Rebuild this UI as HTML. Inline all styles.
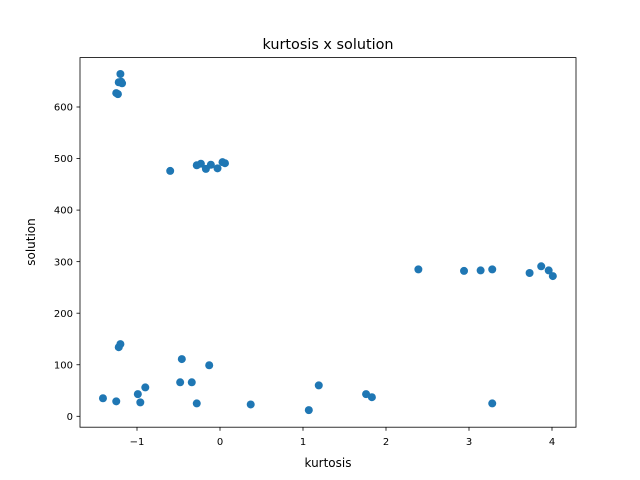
<!DOCTYPE html>
<html><head><meta charset="utf-8"><style>
body{margin:0;background:#fff;}
svg{display:block;font-family:"DejaVu Sans","Liberation Sans",sans-serif;}
</style></head><body>
<svg id="chart" width="640" height="480">
<rect x="0" y="0" width="640" height="480" fill="#fff"/>
<g id="points"></g>
<rect x="80" y="57.6" width="496" height="369.6" fill="none" stroke="#000" stroke-width="0.8"/>
<g id="xticks"></g>
<g id="yticks"></g>
<text x="328" y="49" text-anchor="middle" font-size="14.4">kurtosis x solution</text>
<text x="328" y="467" text-anchor="middle" font-size="12">kurtosis</text>
<text x="35" y="242" text-anchor="middle" font-size="12" transform="rotate(-90 35 242)">solution</text>
</svg>
<script>
const xVals=[-1.41,-1.25,-1.22,-1.20,-0.99,-0.96,-0.90,-0.48,-0.46,-0.34,-0.28,-0.13,0.37,1.07,1.19,1.76,1.83,3.28,2.39,2.94,3.14,3.28,3.73,3.87,3.96,4.01,-1.25,-1.23,-1.20,-1.22,-1.18,-1.19,-0.60,-0.28,-0.23,-0.17,-0.11,-0.03,0.03,0.06];
const yVals=[35,29,134,140,43,27,56,66,111,66,25,99,23,12,60,43,37,25,285,282,283,285,278,291,283,272,627,625,664,648,646,649,476,487,490,480,488,481,493,491];
const xTicks=[-1,0,1,2,3,4];
const yTicks=[0,100,200,300,400,500,600];
const ns="http://www.w3.org/2000/svg";
function sx(v){return 220+v*83.0;}
function sy(v){return 416.3-v*0.5155;}
const pg=document.getElementById('points');
for(let i=0;i<xVals.length;i++){
 const c=document.createElementNS(ns,'circle');
 c.setAttribute('cx',sx(xVals[i]));c.setAttribute('cy',sy(yVals[i]));c.setAttribute('r',4);c.setAttribute('fill','#1f77b4');
 
 
 pg.appendChild(c);
}
const xg=document.getElementById('xticks');
xTicks.forEach(t=>{
 const x=sx(t);
 const l=document.createElementNS(ns,'line');
 l.setAttribute('x1',x);l.setAttribute('x2',x);l.setAttribute('y1',427.2);l.setAttribute('y2',430.7);l.setAttribute('stroke','#000');l.setAttribute('stroke-width','0.8');
 
 
 xg.appendChild(l);
 const tx=document.createElementNS(ns,'text');
 tx.setAttribute('x',x);tx.setAttribute('y',445);tx.setAttribute('text-anchor','middle');tx.setAttribute('font-size','10');
 tx.textContent=t<0?'\u2212'+(-t):String(t);
 
 
 xg.appendChild(tx);
});
const yg=document.getElementById('yticks');
yTicks.forEach(t=>{
 const y=sy(t);
 const l=document.createElementNS(ns,'line');
 l.setAttribute('x1',76.5);l.setAttribute('x2',80);l.setAttribute('y1',y);l.setAttribute('y2',y);l.setAttribute('stroke','#000');l.setAttribute('stroke-width','0.8');
 
 
 yg.appendChild(l);
 const tx=document.createElementNS(ns,'text');
 tx.setAttribute('x',73);tx.setAttribute('y',y+3.6);tx.setAttribute('text-anchor','end');tx.setAttribute('font-size','10');
 tx.textContent=String(t);
 
 
 yg.appendChild(tx);
});
</script>
</body></html>
